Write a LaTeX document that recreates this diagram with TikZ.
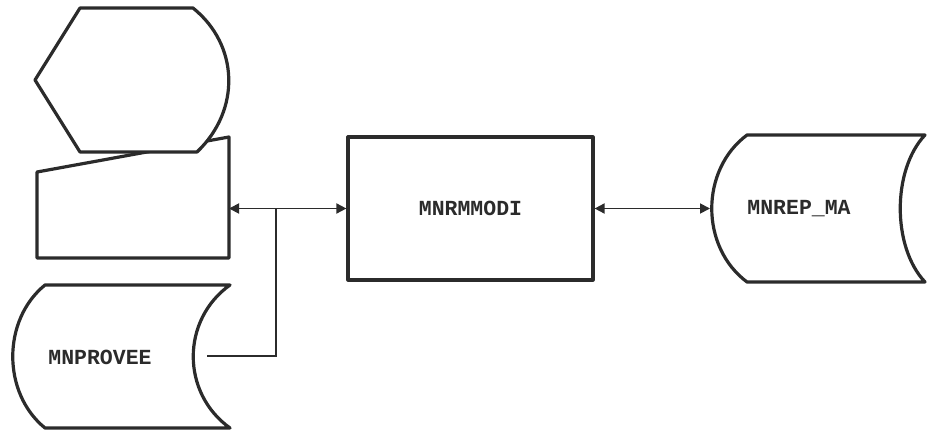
\documentclass[tikz,border=0pt]{standalone}
\usepackage{fontspec}
\newfontfamily\termfont{Liberation Mono}
\usetikzlibrary{arrows.meta,positioning}
\definecolor{clrInk}{HTML}{2B2B2B}
\tikzset{
  outline/.style={draw=clrInk, line width=3.2pt, line join=round},
  procbox/.style={rectangle, outline, minimum width=245pt, minimum height=143pt,
    inner sep=0pt},
  lbl/.style={font=\termfont\bfseries\fontsize{21.5}{24}\selectfont, text=clrInk,
    inner sep=0pt},
  link/.style={{Triangle[length=10pt,width=10pt]}-{Triangle[length=10pt,width=10pt]},
    line width=1.8pt, draw=clrInk},
  bus/.style={line width=1.8pt, draw=clrInk},
}

\begin{document}
\begin{tikzpicture}[x=1pt, y=-1pt]
\useasboundingbox (0,0) rectangle (928,433);

% ── manual input (drawn first, the display sits over it) ─────────────────
\draw[outline, fill=white] (37,172) -- (229,137) -- (229,258) -- (37,258) -- cycle;
\coordinate (inR) at (229,208.5);

% ── display ────────────────────────────────────────────────────────────────
\draw[outline, fill=white] (80,8) -- (35,80) -- (80,152) -- (197,152)
  .. controls (241,110) and (239,45) .. (193,8) -- cycle;

% ── stored data MNPROVEE ───────────────────────────────────────────────────
\draw[outline, fill=white] (45,285) -- (230,285)
  .. controls (181,320) and (181,393) .. (230,428) -- (45,428)
  .. controls (2,393) and (2,320) .. (45,285) -- cycle;
\node[lbl] (prov) at (100,357) {MNPROVEE};
\coordinate (provR) at (207,356);

% ── program MNRMMODI ───────────────────────────────────────────────────────
\node[procbox] (modi) at (470.5,208.5) {};
\node[lbl] (modiTxt) at (modi.center) {MNRMMODI};

% ── stored data MNREP_MA ───────────────────────────────────────────────────
\draw[outline, fill=white] (747,135) -- (925,135)
  .. controls (892,170) and (892,247) .. (925,282) -- (747,282)
  .. controls (700,247) and (700,170) .. (747,135) -- cycle;
\node[lbl] (rep) at (799,208.5) {MNREP\_MA};
\coordinate (repL) at (710,208.5);

% ── connectors ─────────────────────────────────────────────────────────────
\coordinate (jn) at (276,208.5);
\draw[link] (inR) -- (modi.west);
\draw[bus] (provR) -| (jn);
\draw[link] (modi.east) -- (repL);

\end{tikzpicture}
\end{document}
